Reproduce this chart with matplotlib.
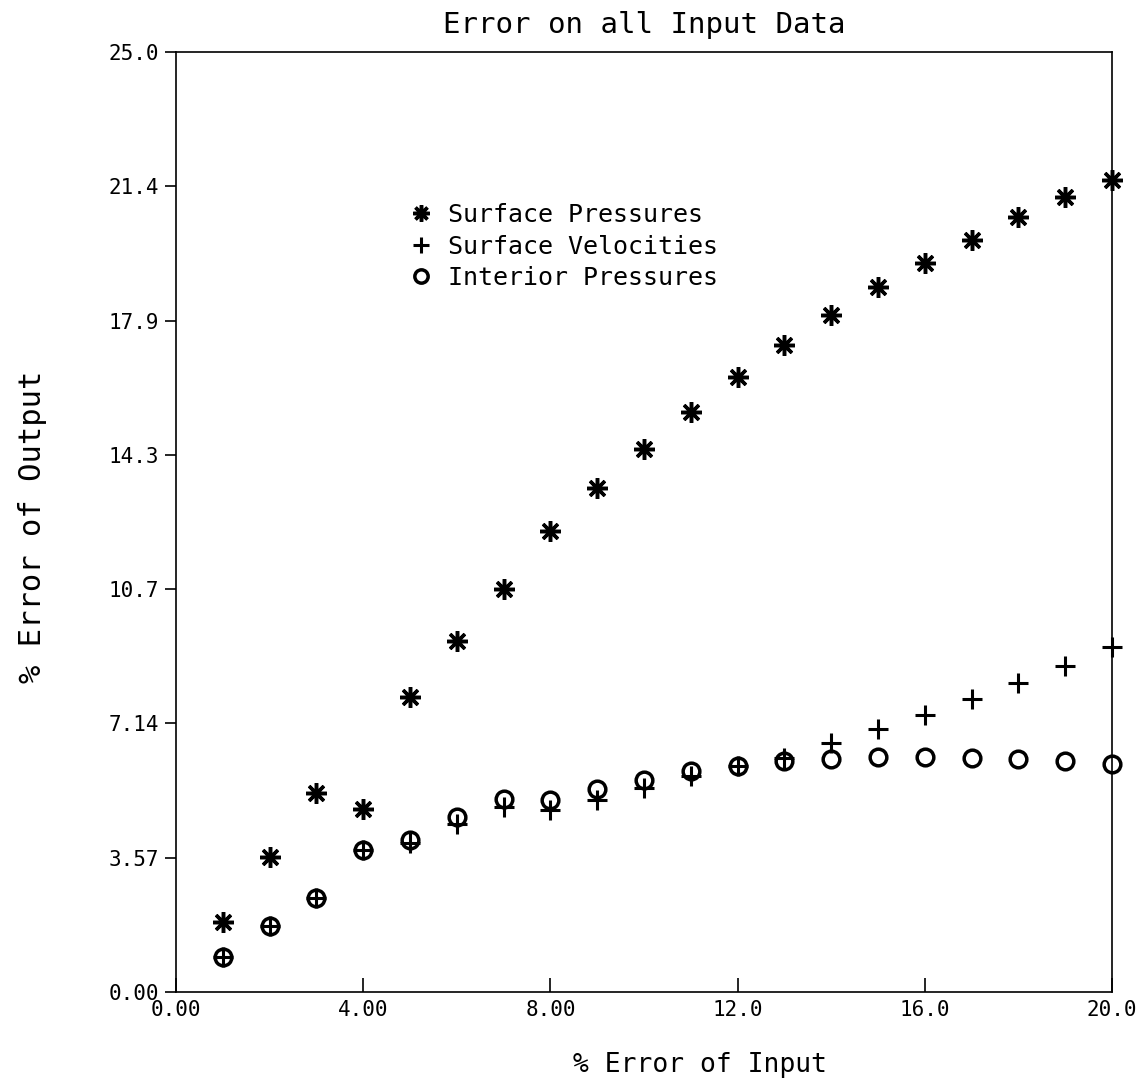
import matplotlib
matplotlib.use('Agg')
import matplotlib.pyplot as plt

input_error = list(range(1, 21))

surface_pressures = [1.86, 3.59, 5.29, 4.87, 7.85, 9.34, 10.72, 12.26, 13.40, 14.44,
                     15.43, 16.36, 17.21, 18.01, 18.75, 19.39, 20.00, 20.61, 21.14, 21.60]
surface_velocities = [0.93, 1.76, 2.50, 3.78, 3.96, 4.47, 4.92, 4.84, 5.11, 5.43,
                      5.74, 6.01, 6.22, 6.62, 6.99, 7.37, 7.79, 8.22, 8.67, 9.18]
interior_pressures = [0.93, 1.76, 2.50, 3.78, 4.04, 4.65, 5.13, 5.11, 5.40, 5.64,
                      5.88, 6.01, 6.14, 6.20, 6.25, 6.25, 6.22, 6.20, 6.14, 6.06]

x_ticks = [0, 4, 8, 12, 16, 20]
x_tick_labels = ['0.00', '4.00', '8.00', '12.0', '16.0', '20.0']
y_ticks = [i * 25 / 7 for i in range(8)]
y_tick_labels = ['0.00', '3.57', '7.14', '10.7', '14.3', '17.9', '21.4', '25.0']

plt.rcParams['font.family'] = ['DejaVu Sans Mono']

fig = plt.figure(figsize=(11.47, 10.89), dpi=100)
ax = fig.add_axes([0.1534, 0.0891, 0.8161, 0.8631])

ax.plot(input_error, surface_pressures, linestyle='none', marker=(8, 2, 0),
        markersize=15, markeredgewidth=2.5, color='black', clip_on=False,
        label='Surface Pressures')
ax.plot(input_error, surface_velocities, linestyle='none', marker='+',
        markersize=15, markeredgewidth=2.2, color='black', clip_on=False,
        label='Surface Velocities')
ax.plot(input_error, interior_pressures, linestyle='none', marker='o',
        markersize=12, markeredgewidth=2.5, markerfacecolor='none', color='black',
        clip_on=False, label='Interior Pressures')

ax.set_xlim(0, 20)
ax.set_ylim(0, 25)
ax.set_xticks(x_ticks)
ax.set_xticklabels(x_tick_labels)
ax.set_yticks(y_ticks)
ax.set_yticklabels(y_tick_labels)
ax.tick_params(axis='x', direction='in', length=10, width=1.2, labelsize=15, pad=6)
ax.tick_params(axis='y', direction='out', length=8, width=1.2, labelsize=15, pad=4)
for s in ax.spines.values():
    s.set_linewidth(1.2)

ax.set_title('Error on all Input Data', fontsize=21, pad=14)
ax.set_xlabel('% Error of Input', fontsize=19)
ax.xaxis.set_label_coords(0.56, -0.064)
ax.set_ylabel('% Error of Output', fontsize=22)
ax.yaxis.set_label_coords(-0.138, 0.495)

ax.legend(loc='upper left', bbox_to_anchor=(0.235, 0.85), frameon=False,
          fontsize=18, handletextpad=0.5, labelspacing=0.3, handlelength=1.2,
          markerscale=0.8, borderaxespad=0)

fig.savefig('out.png', dpi=100)
